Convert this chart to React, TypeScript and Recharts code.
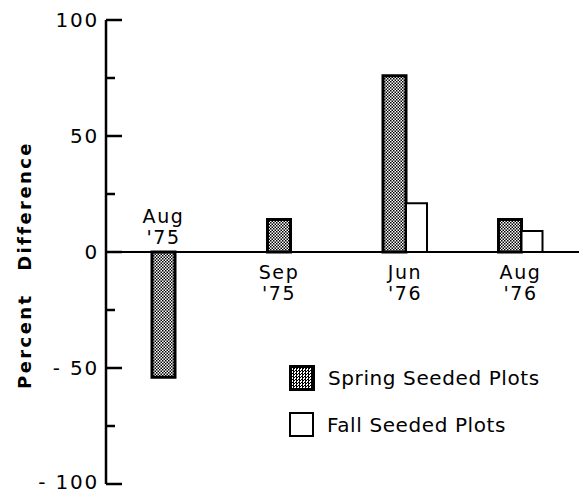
import React from "react";
import { Bar, BarChart, LabelList, Legend, ReferenceLine, XAxis, YAxis } from "recharts";

const months = ["Aug", "Sep", "Jun", "Aug"];
const years = ["'75", "'75", "'76", "'76"];
const spring = [-54, 14, 76, 14];
const fall: (number | null)[] = [null, null, 21, 9];
const yTicks = [-100, -75, -50, -25, 0, 25, 50, 75, 100];

const FONT = "'DejaVu Sans', sans-serif";
const SPRING_SIZE = 23;
const FALL_SIZE = 21;

const data = months.map((m, i) => ({ name: `${m} ${years[i]}`, spring: spring[i], fall: fall[i] }));

const YTick = (props: any) => {
  const { x, y, payload } = props;
  const v = payload.value as number;
  const major = v % 50 === 0;
  return (
    <g>
      <line x1={x} x2={x + (major ? 16 : 9)} y1={y} y2={y} stroke="#000" strokeWidth={2.5} />
      {major && (
        <text
          x={x - 7}
          y={y}
          dy={v === -100 ? 4.5 : 7}
          textAnchor="end"
          fontFamily={FONT}
          fontSize={20}
          letterSpacing={1.8}
          fill="#000"
        >
          {v < 0 ? `- ${-v}` : `${v}`}
        </text>
      )}
    </g>
  );
};

const CategoryLabel = (props: any) => {
  const { x, y, width, height, index, value } = props;
  const top = Math.min(y, y + height);
  const bottom = Math.max(y, y + height);
  const neg = value < 0;
  const zero = neg ? top : bottom;
  const cx = fall[index] == null ? x + width / 2 : x + (width + FALL_SIZE) / 2;
  const y1 = neg ? zero - 29 : zero + 27;
  const style = { fontFamily: FONT, fontSize: 19, letterSpacing: 1.6 };
  return (
    <g>
      <text x={cx} y={y1} textAnchor="middle" fill="#000" style={style}>
        {months[index]}
      </text>
      <text x={cx} y={y1 + 21} textAnchor="middle" fill="#000" style={style}>
        {years[index]}
      </text>
    </g>
  );
};

const YLabel = (props: any) => {
  const { viewBox } = props;
  const lx = viewBox.x + 31;
  const ly = viewBox.y + viewBox.height / 2 + 13;
  return (
    <text
      x={lx}
      y={ly}
      transform={`rotate(-90, ${lx}, ${ly})`}
      textAnchor="middle"
      fontFamily={FONT}
      fontWeight="bold"
      fontSize={18}
      letterSpacing={2.4}
      wordSpacing={14}
      fill="#000"
    >
      Percent Difference
    </text>
  );
};

const checker = "repeating-conic-gradient(#000 0 25%, #fff 0 50%) 0 0 / 3px 3px";

const LegendBox = () => (
  <div style={{ fontFamily: FONT, fontSize: 20, letterSpacing: 0.6, color: "#000" }}>
    <div style={{ display: "flex", alignItems: "center", height: 27 }}>
      <div style={{ width: 20, height: 20, border: "3px solid #000", background: checker }} />
      <span style={{ marginLeft: 13 }}>Spring Seeded Plots</span>
    </div>
    <div style={{ display: "flex", alignItems: "center", height: 27, marginTop: 20 }}>
      <div style={{ width: 21, height: 21, border: "2.5px solid #000", background: "#fff" }} />
      <span style={{ marginLeft: 13 }}>Fall Seeded Plots</span>
    </div>
  </div>
);

export default function App() {
  return (
    <div style={{ position: "absolute", left: 0, top: 0, background: "#fff" }}>
      <BarChart
        width={579}
        height={493}
        data={data}
        margin={{ top: 20, right: 0, left: 0, bottom: 9 }}
        barGap={0}
      >
        <defs>
          <pattern id="dots" width={3} height={3} patternUnits="userSpaceOnUse">
            <rect width={3} height={3} fill="#fff" />
            <rect width={1.5} height={1.5} fill="#000" />
            <rect x={1.5} y={1.5} width={1.5} height={1.5} fill="#000" />
          </pattern>
        </defs>
        <XAxis dataKey="name" hide height={0} padding={{ left: 10, right: 1 }} />
        <YAxis
          domain={[-100, 100]}
          ticks={yTicks}
          width={106}
          tickSize={0}
          tickMargin={0}
          tickLine={false}
          axisLine={{ stroke: "#000", strokeWidth: 2.5 }}
          tick={<YTick />}
          interval={0}
          label={<YLabel />}
        />
        <ReferenceLine y={0} stroke="#000" strokeWidth={2.2} />
        <Legend
          layout="vertical"
          align="center"
          verticalAlign="middle"
          content={<LegendBox />}
          wrapperStyle={{ left: 289, top: 364, width: 285 }}
        />
        <Bar
          dataKey="spring"
          barSize={SPRING_SIZE}
          fill="url(#dots)"
          stroke="#000"
          strokeWidth={3}
          isAnimationActive={false}
        >
          <LabelList dataKey="spring" content={<CategoryLabel />} />
        </Bar>
        <Bar
          dataKey="fall"
          barSize={FALL_SIZE}
          fill="#fff"
          stroke="#000"
          strokeWidth={2}
          isAnimationActive={false}
        />
      </BarChart>
    </div>
  );
}
